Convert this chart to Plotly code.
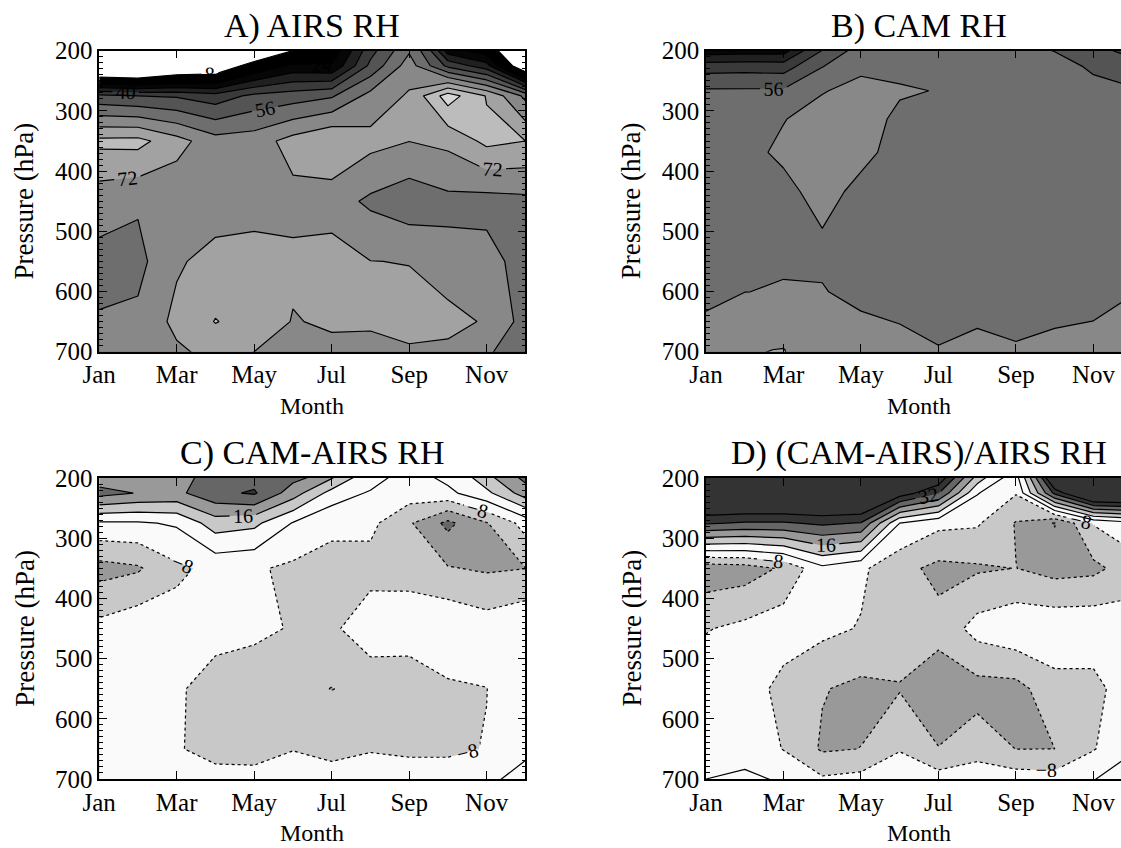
import numpy as np
import plotly.graph_objects as go

# ---------------- data ----------------
months = list(range(1, 13))
month_ticks = [1, 3, 5, 7, 9, 11]
month_labels = ["Jan", "Mar", "May", "Jul", "Sep", "Nov"]
pressure_ticks = [200, 300, 400, 500, 600, 700]

# AIRS layer mid-pressures (hPa) and CAM model levels (hPa)
p_airs = [175, 225, 275, 350, 450, 550, 650, 775]
p_cam = [192.5, 226.5, 266.5, 313.5, 368.8, 433.9, 510.5, 600.5, 696.8, 787.7]

# one column per month (Jan..Dec), values listed top (low p) to bottom (high p)
airs_rh = [
    [-40, -17, 50, 82, 67, 62, 64.5, 66],
    [-40, -20, 48, 82.5, 65, 61.7, 65.7, 67],
    [-30, -8.7, 47, 75, 66, 70.9, 74.1, 65.6],
    [-30, -5, 43.5, 67.2, 67.5, 75, 80.3, 68],
    [-35, 15, 50, 68.1, 69, 75, 77, 64.5],
    [-10, 26, 52, 75, 69.7, 73.5, 71.6, 66],
    [10, 24.5, 55, 80, 67.5, 76, 73, 66],
    [40, 50, 66.7, 74.5, 62.5, 72.1, 73, 65],
    [58, 68, 73, 72.1, 59, 71.8, 74.5, 66],
    [10, 46, 92, 74, 62, 66.7, 75, 62],
    [5, 35, 79.5, 82, 61, 67.25, 71, 58],
    [-40, -5.5, 62, 80, 62, 60.3, 61, 58],
]

cam_rh = [
    [22.7, 44.5, 57, 60, 61, 61, 62, 63.6, 64.8, 66],
    [24, 45, 57, 61, 62.5, 62, 62.5, 63.95, 71.5, 74],
    [24, 44.5, 57, 63.8, 65, 62.5, 63, 64.3, 72.2, 76],
    [46, 55.8, 63.7, 66, 67, 66, 63.5, 64.1, 67, 68],
    [58, 63, 65.5, 66.5, 65.5, 62.5, 62, 63.5, 65, 66],
    [60, 62.5, 64.6, 62.8, 62, 61.5, 61.5, 63, 64.8, 66],
    [61, 62.5, 63.8, 62, 61, 61, 61.5, 62.8, 64.1, 65],
    [60, 62, 62.5, 61.5, 61, 61, 61.5, 62.8, 64.7, 66],
    [58.5, 61.5, 62, 61.5, 61, 61, 61.5, 62.8, 64.2, 65],
    [54.5, 60, 61.5, 61.5, 61, 61, 61.5, 62.8, 64.7, 66],
    [49, 54.5, 59, 61, 61, 61, 61.5, 63.2, 64.8, 66],
    [44, 51, 57, 60, 61, 61, 62, 63.9, 65.5, 67],
]

cam_minus_airs = [
    [12, 27, -1.1, -19, -5.6, -4, -3, -2],
    [14, 23.6, -1, -17, -2.4, -3, -3, -2],
    [22, 22, 1, -9.5, -4.7, -6, -7.5, -2],
    [25, 30, 12, -6, -3, -14, -10, 0],
    [25, 33, 10, -7, -6.5, -12, -12, 6.5],
    [32, 20, -0.5, -9.5, -8.5, -13, -8.3, 3],
    [28, 5, -7, -9.5, -9.5, -16.2, -10, 2],
    [10, -1, -6, -11, -3, -13.6, -8.5, 2],
    [0, -4, -15, -12, -1.5, -15.7, -9, 0],
    [6, -2, -26, -15.5, -1, -9.4, -9, 0],
    [20, 6, -16.5, -17, -4, -8.1, -7.75, 6.3],
    [32, 20, -5, -16.1, -1, -2, -2, 11],
]

rel_diff = [
    [60, 60, 33, -21, -8.5, -3, -2, 3],
    [60, 60, 31, -20, -6, -3, -3, 8],
    [60, 60, 31, -14.8, -3.3, -11, -8.3, 9],
    [60, 60, 33.5, -2, -6, -15.5, -17, 8],
    [60, 60, 31.5, -6.5, -8.5, -17.9, -15.9, 10],
    [50, 45, 0, -13.6, -12, -16.5, -8.5, 5],
    [60, 32.5, -6, -18, -13.6, -20.3, -15.8, 12],
    [25, 0.5, -7, -17, -5, -19, -11.7, 10.3],
    [2, -7.5, -16.5, -15.9, -2, -18.7, -16.1, 14],
    [80, 34, -24.5, -19, -2, -11, -16, 12],
    [60, 60, -7.5, -18, -2, -11, -8.5, 11.5],
    [60, 60, -2, -12, -4, -2, -1, 15],
]

# gray value of each filled band: [below first level, band1, band2, ...]
rh_grays = [255, 0, 0, 6, 32, 58, 84, 110, 136, 162, 188, 214]
diff_grays = [51, 51, 102, 153, 200, 250, 250, 200, 153, 102, 51]

# ---------------- layout helpers ----------------
W, H = 1121, 848
PLOT_W, PLOT_H = 426.2, 301.0
MONTH_PX = PLOT_W / 11.0
FONT = "Liberation Serif"


def step_scale(grays):
    n = len(grays)
    scale = []
    for j, g in enumerate(grays):
        c = "rgb(%d,%d,%d)" % (g, g, g)
        scale.append([j / n, c])
        scale.append([(j + 1) / n, c])
    return scale


panels = [
    dict(z=airs_rh, p=p_airs, x0=99.2, y0=50.7, kind="rh", label_end=88,
         title="A) AIRS RH"),
    dict(z=cam_rh, p=p_cam, x0=706.0, y0=50.7, kind="rh", label_end=56,
         title="B) CAM RH"),
    dict(z=cam_minus_airs, p=p_airs, x0=99.2, y0=478.0, kind="diff",
         title="C) CAM-AIRS RH"),
    dict(z=rel_diff, p=p_airs, x0=706.0, y0=478.0, kind="diff",
         title="D) (CAM-AIRS)/AIRS RH"),
]

fig = go.Figure()
annotations = []
tickfont = dict(family=FONT, size=25, color="black")
labelfont = dict(family=FONT, size=20, color="black")

for i, pn in enumerate(panels):
    k = "" if i == 0 else str(i + 1)
    xa, ya = "x" + k, "y" + k
    z = np.array(pn["z"], dtype=float).T
    x0, y0 = pn["x0"], pn["y0"]
    x1 = min(x0 + PLOT_W, W)
    xmax = 1 + (x1 - x0) / MONTH_PX
    y1 = y0 + PLOT_H
    clipped = x0 + PLOT_W > W

    common = dict(x=months, y=pn["p"], z=z, xaxis=xa, yaxis=ya, showscale=False,
                  hoverinfo="skip")
    if pn["kind"] == "rh":
        fill = dict(start=8, end=96, size=8)
        grays = rh_grays
        le = pn["label_end"]
        line_sets = [
            (dict(start=8, end=le, size=16), "solid", True),
            (dict(start=16, end=96, size=16), "solid", False),
        ]
        if le < 88:
            line_sets.append((dict(start=le + 16, end=88, size=16), "solid", False))
    else:
        fill = dict(start=-40, end=40, size=8)
        grays = diff_grays
        line_sets = [
            (dict(start=16, end=32, size=16), "solid", True),
            (dict(start=0, end=8, size=8), "solid", False),
            (dict(start=24, end=40, size=16), "solid", False),
            (dict(start=-40, end=-8, size=16), "dot", True),
            (dict(start=-32, end=-16, size=16), "dot", False),
        ]

    fig.add_trace(go.Contour(
        **common, autocontour=False,
        contours=dict(coloring="fill", showlines=False, **fill),
        colorscale=step_scale(grays),
        line=dict(width=0, smoothing=0),
    ))
    for lev, dash, lab in line_sets:
        fig.add_trace(go.Contour(
            **common, autocontour=False,
            contours=dict(coloring="none", showlabels=lab, labelfont=labelfont,
                          labelformat=".0f", **lev),
            line=dict(color="black", width=1.2, dash=dash, smoothing=0),
        ))

    xdom = [x0 / W, x1 / W]
    ydom = [1 - y1 / H, 1 - y0 / H]
    fig.layout["xaxis" + k] = dict(
        domain=xdom, range=[1, xmax], anchor=ya, tickmode="array",
        tickvals=month_ticks, ticktext=month_labels, ticks="inside", ticklen=8,
        tickwidth=1.2, tickcolor="black", showline=True, linecolor="black",
        linewidth=1.5, mirror="ticks", showgrid=False, zeroline=False,
        tickfont=tickfont, ticklabelstandoff=0, automargin=False,
    )
    fig.layout["yaxis" + k] = dict(
        domain=ydom, range=[700, 200], anchor=xa, tickmode="array",
        tickvals=pressure_ticks, ticks="inside", ticklen=8, tickwidth=1.2,
        tickcolor="black", showline=True, linecolor="black", linewidth=1.5,
        mirror=(False if clipped else "ticks"), showgrid=False, zeroline=False,
        tickfont=tickfont, ticklabelstandoff=0, automargin=False,
        minor=dict(dtick=10, tick0=200, ticks="inside", ticklen=4,
                   tickcolor="black", tickwidth=1, showgrid=False),
    )

    cx = x0 + PLOT_W / 2
    month_y = min(y1 + 54, H - 14.5)
    annotations.append(dict(text=pn["title"], x=cx / W, y=1 - (y0 - 25) / H,
                            xref="paper", yref="paper", showarrow=False,
                            xanchor="center", yanchor="middle",
                            font=dict(family=FONT, size=34, color="black")))
    annotations.append(dict(text="Pressure (hPa)", x=(x0 - 75) / W,
                            y=1 - (y0 + PLOT_H / 2) / H, xref="paper", yref="paper",
                            showarrow=False, textangle=-90, xanchor="center",
                            yanchor="middle",
                            font=dict(family=FONT, size=27, color="black")))
    annotations.append(dict(text="Month", x=cx / W, y=1 - month_y / H,
                            xref="paper", yref="paper", showarrow=False,
                            xanchor="center", yanchor="middle",
                            font=dict(family=FONT, size=24, color="black")))

fig.update_layout(
    width=W, height=H, margin=dict(l=0, r=0, t=0, b=0, autoexpand=False),
    paper_bgcolor="white", plot_bgcolor="white", showlegend=False,
    annotations=annotations,
)

fig.write_html(
    "out.html",
    post_script="document.body.style.margin='0px';document.body.style.padding='0px';"
                "document.body.style.overflow='hidden';",
)
